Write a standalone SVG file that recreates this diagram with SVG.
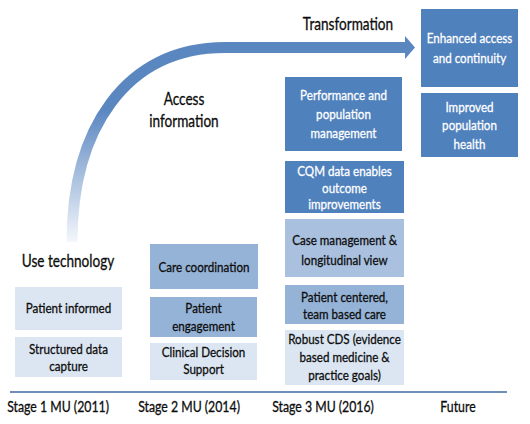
<svg xmlns="http://www.w3.org/2000/svg" width="530" height="424" viewBox="0 0 530 424">
<style>
text{font-family:Lato,"Liberation Sans",sans-serif;text-anchor:middle;fill:#0d0d0d;stroke:#0d0d0d;stroke-width:.3;transform-box:fill-box;transform-origin:center;transform:scaleX(.83)}
.b{font-size:14px}
.w{fill:#fff;stroke:#fff}
.lbl{font-size:17px;transform:scaleX(.8)}
.stg{font-size:15px;transform:scaleX(.82)}
.light{fill:#dce6f2}
.med{fill:#95b3d7}
.med2{fill:#a9c0df}
.dark{fill:#4f81bd}
</style>
<defs>
<linearGradient id="fade" gradientUnits="userSpaceOnUse" x1="0" y1="242" x2="0" y2="110">
<stop offset="0" stop-color="#f4f7fb"/>
<stop offset="1" stop-color="#5b87c1"/>
</linearGradient>
</defs>
<rect width="530" height="424" fill="#fff"/>
<g id="connectors">
<path d="M72 242 C72 130 125 47.5 225 47.5 L407 47.5" fill="none" stroke="url(#fade)" stroke-width="11"/>
<polygon points="405,36 415,47.5 405,59" fill="#5b87c1"/>
<line x1="10" y1="392" x2="507" y2="392" stroke="#6f8fba" stroke-width="2"/>
</g>
<g id="label-use"><text class="lbl" x="68" y="267">Use technology</text></g>
<g id="label-access"><text class="lbl" x="184" y="105">Access</text><text class="lbl" x="184" y="127">information</text></g>
<g id="label-transformation"><text class="lbl" x="348" y="30">Transformation</text></g>
<g id="patient-informed"><rect class="light" x="15" y="287" width="107" height="43"/><text class="b" x="68.5" y="313">Patient informed</text></g>
<g id="structured-data"><rect class="light" x="15" y="337" width="107" height="40"/><text class="b" x="68.5" y="354">Structured data</text><text class="b" x="68.5" y="371">capture</text></g>
<g id="care-coordination"><rect class="med" x="150" y="244" width="108" height="45"/><text class="b" x="204" y="272">Care coordination</text></g>
<g id="patient-engagement"><rect class="med" x="150" y="297" width="107" height="40"/><text class="b" x="203.5" y="313">Patient</text><text class="b" x="203.5" y="331">engagement</text></g>
<g id="clinical-decision"><rect class="light" x="150" y="343" width="107" height="37"/><text class="b" x="203.5" y="357">Clinical Decision</text><text class="b" x="203.5" y="374">Support</text></g>
<g id="performance"><rect class="dark" x="285" y="77" width="117" height="74"/><text class="b w" x="343.5" y="100">Performance and</text><text class="b w" x="343.5" y="119">population</text><text class="b w" x="343.5" y="138">management</text></g>
<g id="cqm"><rect class="dark" x="285" y="161" width="119" height="52"/><text class="b w" x="344.5" y="176">CQM data enables</text><text class="b w" x="344.5" y="193">outcome</text><text class="b w" x="344.5" y="209">improvements</text></g>
<g id="case-management"><rect class="med2" x="285" y="219" width="119" height="58"/><text class="b" x="344.5" y="245">Case management &amp;</text><text class="b" x="344.5" y="265">longitudinal view</text></g>
<g id="patient-centered"><rect class="med" x="285" y="285" width="119" height="39"/><text class="b" x="344.5" y="302">Patient centered,</text><text class="b" x="344.5" y="319">team based care</text></g>
<g id="robust-cds"><rect class="light" x="285" y="330" width="119" height="55"/><text class="b" x="344.5" y="344">Robust CDS (evidence</text><text class="b" x="344.5" y="362">based medicine &amp;</text><text class="b" x="344.5" y="380">practice goals)</text></g>
<g id="enhanced-access"><rect class="dark" x="421" y="9" width="97" height="78"/><text class="b w" x="469.5" y="43">Enhanced access</text><text class="b w" x="469.5" y="63">and continuity</text></g>
<g id="improved-health"><rect class="dark" x="421" y="93" width="97" height="64"/><text class="b w" x="469.5" y="112">Improved</text><text class="b w" x="469.5" y="130">population</text><text class="b w" x="469.5" y="149">health</text></g>
<g id="stages">
<text class="stg" x="58" y="412">Stage 1 MU (2011)</text>
<text class="stg" x="189" y="412">Stage 2 MU (2014)</text>
<text class="stg" x="323" y="412">Stage 3 MU (2016)</text>
<text class="stg" x="458" y="412">Future</text>
</g>
</svg>
